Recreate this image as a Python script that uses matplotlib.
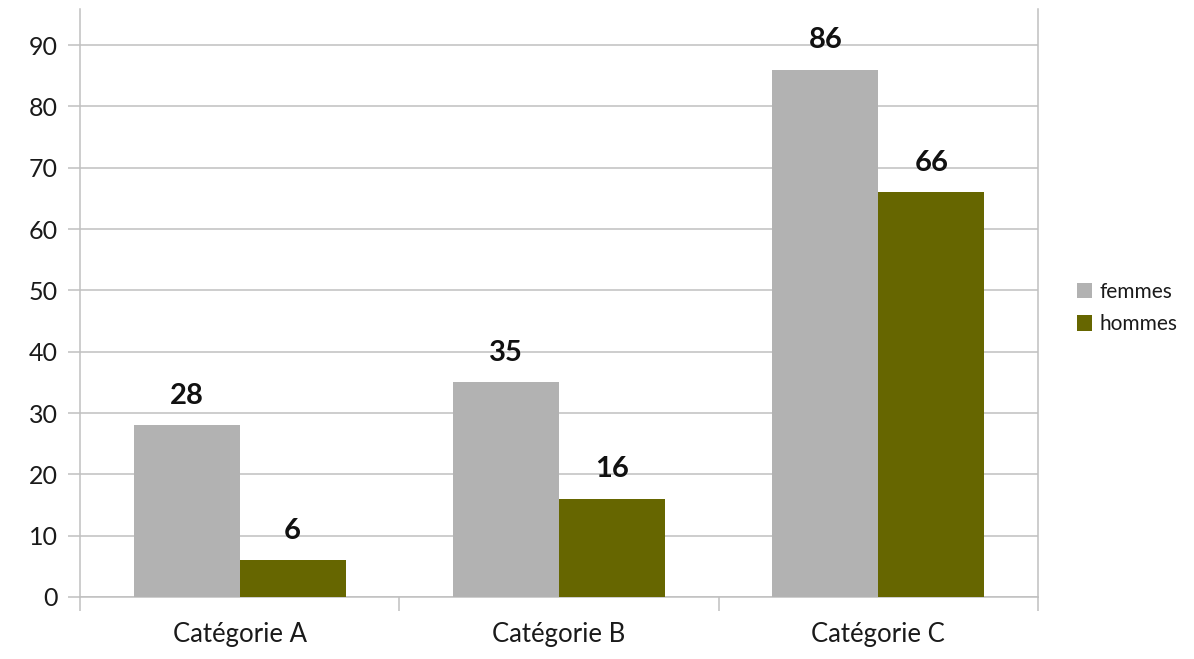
import matplotlib
matplotlib.use("Agg")
import matplotlib.pyplot as plt
import numpy as np

categories = ["Catégorie A", "Catégorie B", "Catégorie C"]
femmes = [28, 35, 86]
hommes = [6, 16, 66]
series_names = ["femmes", "hommes"]
yticks = [0, 10, 20, 30, 40, 50, 60, 70, 80, 90]

plt.rcParams["font.family"] = ["Lato", "DejaVu Sans"]

fig = plt.figure(figsize=(11.94, 6.59), dpi=100)
ax = fig.add_axes([80 / 1194, 62 / 659, 958 / 1194, 588 / 659])

grey = "#b2b2b2"
olive = "#666600"
line_c = "#c0c0c0"
text_c = "#1a1a1a"

x = np.arange(len(categories))
w = 0.332
b1 = ax.bar(x - w / 2, femmes, width=w, color=grey, label=series_names[0], zorder=3)
b2 = ax.bar(x + w / 2, hommes, width=w, color=olive, label=series_names[1], zorder=3)

for bars, vals in ((b1, femmes), (b2, hommes)):
    for r, v in zip(bars, vals):
        ax.annotate(str(v), (r.get_x() + r.get_width() / 2, v),
                    xytext=(0, 12), textcoords="offset points",
                    ha="center", va="bottom", fontsize=21, fontweight="bold",
                    color="#111111")

ax.set_xlim(-0.5, 2.5)
ax.set_ylim(0, 95.87)
ax.set_yticks(yticks)
ax.yaxis.grid(True, color=line_c, linewidth=1.1, zorder=0)
ax.tick_params(axis="y", length=9, color=line_c, labelsize=18, pad=7,
               labelcolor=text_c, width=1.1)

ax.set_xticks(x)
ax.set_xticklabels(categories)
ax.tick_params(axis="x", which="major", length=0, labelsize=18.5, pad=18,
               labelcolor=text_c)
ax.set_xticks([-0.5, 0.5, 1.5, 2.5], minor=True)
ax.tick_params(axis="x", which="minor", length=10, color=line_c, width=1.1)

for s in ("left", "right", "bottom"):
    ax.spines[s].set_color(line_c)
    ax.spines[s].set_linewidth(1.1)
ax.spines["top"].set_visible(False)

fig.legend(handles=[b1, b2], labels=series_names,
           loc="center left", bbox_to_anchor=(1058 / 1194, 1 - 308 / 659),
           frameon=False, fontsize=15, handlelength=0.75, handleheight=0.75,
           handletextpad=0.35, labelspacing=0.6, labelcolor=text_c)

fig.savefig("out.png", dpi=100)
